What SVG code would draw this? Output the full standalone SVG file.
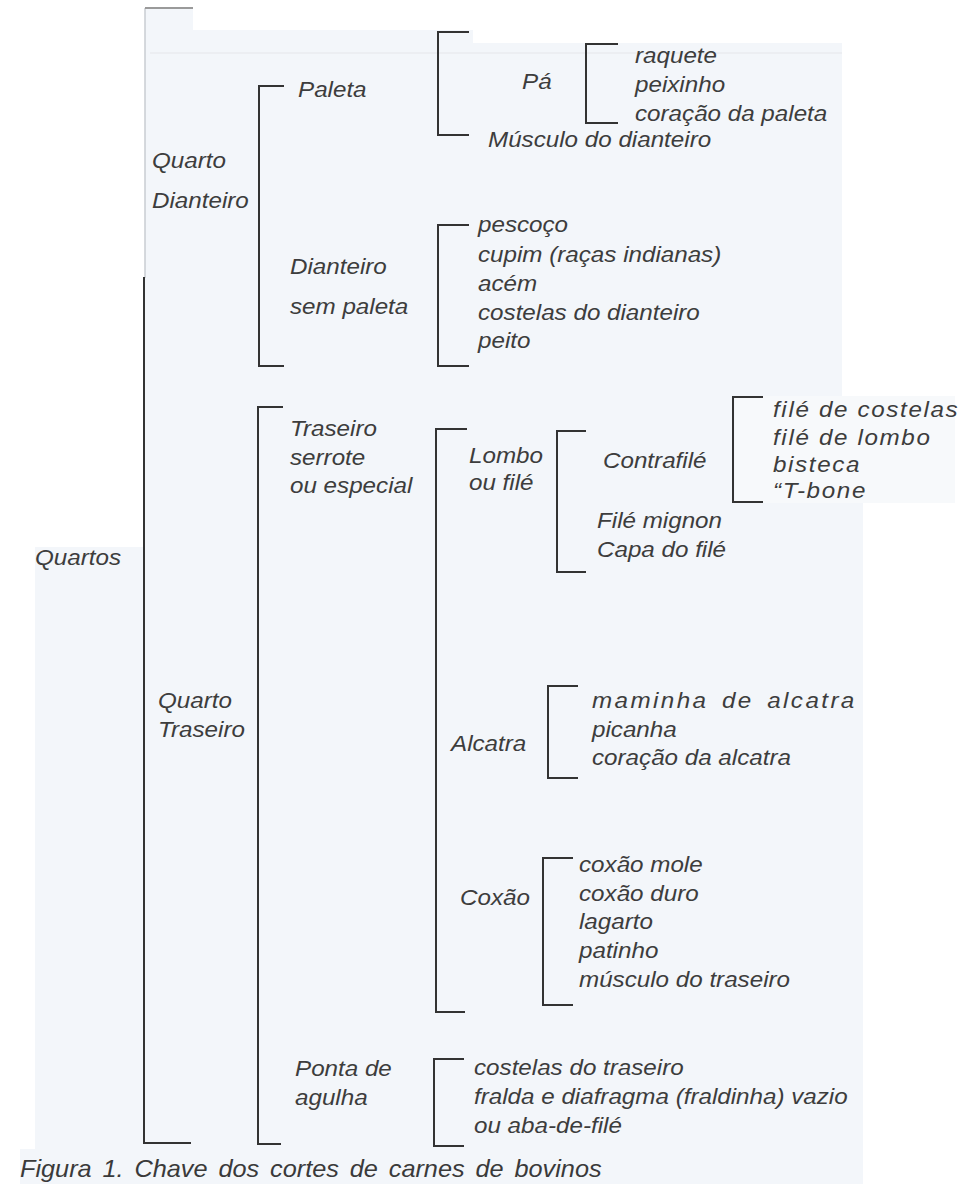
<svg xmlns="http://www.w3.org/2000/svg" width="964" height="1184" viewBox="0 0 964 1184">
<style>
.t{font-family:"Liberation Sans",Arial,sans-serif;font-style:italic;font-size:22px;fill:#3d3d3d}
.cap{font-family:"Liberation Sans",Arial,sans-serif;font-style:italic;font-size:23px;fill:#3a3a3a;word-spacing:3.5px}
.br{fill:none;stroke:#333;stroke-width:2;stroke-linecap:square}
</style>
<rect width="964" height="1184" fill="#ffffff"/>
<g id="paper">
<polygon points="145,8 193,8 193,30 473,30 473,43 842,43 842,396 955,396 955,503 863,503 863,1184 20,1184 20,1149 35,1149 35,547 145,547" fill="#f3f6fa"/>
<rect x="735" y="396" width="220" height="107" fill="#f7f9fb"/>
<line x1="150" y1="53" x2="842" y2="53" stroke="#eceef2" stroke-width="2"/>
</g>
<g id="connectors">
<line x1="145" y1="8" x2="145" y2="278" stroke="#c9cdd2" stroke-width="1.5"/>
<line x1="145" y1="8" x2="193" y2="8" stroke="#9a9a9a" stroke-width="2"/>
<path class="br" d="M144,278 V1143 H190"/>
<path class="br" d="M283,86 H259 V366 H283"/>
<path class="br" d="M468,32 H438 V135 H468"/>
<path class="br" d="M617,44 H586 V123 H617"/>
<path class="br" d="M468,225 H438 V366 H468"/>
<path class="br" d="M282,407 H258 V1144 H280"/>
<path class="br" d="M466,429 H436 V1012 H464"/>
<path class="br" d="M585,431 H557 V572 H585"/>
<path class="br" d="M762,397 H733 V502 H762"/>
<path class="br" d="M577,686 H548 V778 H577"/>
<path class="br" d="M572,858 H543 V1005 H572"/>
<path class="br" d="M463,1059 H434 V1146 H463"/>
</g>
<g id="n-quartos"><text class="t" transform="translate(35 565) scale(1.1 1)">Quartos</text></g>
<g id="n-quarto-dianteiro">
<text class="t" transform="translate(152 168) scale(1.1 1)">Quarto</text>
<text class="t" transform="translate(152 208) scale(1.1 1)">Dianteiro</text>
</g>
<g id="n-paleta"><text class="t" transform="translate(298 97) scale(1.1 1)">Paleta</text></g>
<g id="n-pa"><text class="t" transform="translate(522 89) scale(1.1 1)">Pá</text></g>
<g id="n-pa-cuts">
<text class="t" transform="translate(635 63) scale(1.1 1)">raquete</text>
<text class="t" transform="translate(635 92) scale(1.1 1)">peixinho</text>
<text class="t" transform="translate(635 121) scale(1.1 1)">coração da paleta</text>
</g>
<g id="n-musculo-dianteiro"><text class="t" transform="translate(488 147) scale(1.1 1)">Músculo do dianteiro</text></g>
<g id="n-dianteiro-sem-paleta">
<text class="t" transform="translate(290 274) scale(1.1 1)">Dianteiro</text>
<text class="t" transform="translate(290 314) scale(1.1 1)">sem paleta</text>
</g>
<g id="n-dianteiro-cuts">
<text class="t" transform="translate(478 232) scale(1.1 1)">pescoço</text>
<text class="t" transform="translate(478 262) scale(1.1 1)">cupim (raças indianas)</text>
<text class="t" transform="translate(478 291) scale(1.1 1)">acém</text>
<text class="t" transform="translate(478 320) scale(1.1 1)">costelas do dianteiro</text>
<text class="t" transform="translate(478 348) scale(1.1 1)">peito</text>
</g>
<g id="n-quarto-traseiro">
<text class="t" transform="translate(158 708) scale(1.1 1)">Quarto</text>
<text class="t" transform="translate(158 737) scale(1.1 1)">Traseiro</text>
</g>
<g id="n-traseiro-serrote">
<text class="t" transform="translate(290 436) scale(1.1 1)">Traseiro</text>
<text class="t" transform="translate(290 465) scale(1.1 1)">serrote</text>
<text class="t" transform="translate(290 493) scale(1.1 1)">ou especial</text>
</g>
<g id="n-lombo">
<text class="t" transform="translate(469 463) scale(1.1 1)">Lombo</text>
<text class="t" transform="translate(469 490) scale(1.1 1)">ou filé</text>
</g>
<g id="n-contrafile"><text class="t" transform="translate(603 468) scale(1.1 1)">Contrafilé</text></g>
<g id="n-contrafile-cuts">
<text class="t" style="letter-spacing:1.5px" transform="translate(773 417) scale(1.1 1)">filé de costelas</text>
<text class="t" style="letter-spacing:1.5px" transform="translate(773 445) scale(1.1 1)">filé de lombo</text>
<text class="t" style="letter-spacing:1.5px" transform="translate(773 472) scale(1.1 1)">bisteca</text>
<text class="t" style="letter-spacing:1.5px" transform="translate(773 498) scale(1.1 1)">“T-bone</text>
</g>
<g id="n-file-mignon">
<text class="t" transform="translate(597 528) scale(1.1 1)">Filé mignon</text>
<text class="t" transform="translate(597 557) scale(1.1 1)">Capa do filé</text>
</g>
<g id="n-alcatra"><text class="t" transform="translate(451 751) scale(1.1 1)">Alcatra</text></g>
<g id="n-alcatra-cuts">
<text class="t" style="letter-spacing:2.2px;word-spacing:4px" transform="translate(592 708) scale(1.1 1)">maminha de alcatra</text>
<text class="t" transform="translate(592 737) scale(1.1 1)">picanha</text>
<text class="t" transform="translate(592 765) scale(1.1 1)">coração da alcatra</text>
</g>
<g id="n-coxao"><text class="t" transform="translate(460 905) scale(1.1 1)">Coxão</text></g>
<g id="n-coxao-cuts">
<text class="t" transform="translate(579 872) scale(1.1 1)">coxão mole</text>
<text class="t" transform="translate(579 901) scale(1.1 1)">coxão duro</text>
<text class="t" transform="translate(579 929) scale(1.1 1)">lagarto</text>
<text class="t" transform="translate(579 958) scale(1.1 1)">patinho</text>
<text class="t" transform="translate(579 987) scale(1.1 1)">músculo do traseiro</text>
</g>
<g id="n-ponta-agulha">
<text class="t" transform="translate(295 1076) scale(1.1 1)">Ponta de</text>
<text class="t" transform="translate(295 1105) scale(1.1 1)">agulha</text>
</g>
<g id="n-ponta-cuts">
<text class="t" transform="translate(474 1075) scale(1.1 1)">costelas do traseiro</text>
<text class="t" transform="translate(474 1104) scale(1.1 1)">fralda e diafragma (fraldinha) vazio</text>
<text class="t" transform="translate(474 1133) scale(1.1 1)">ou aba-de-filé</text>
</g>
<g id="caption"><text class="cap" transform="translate(20 1177) scale(1.1 1)">Figura 1. Chave dos cortes de carnes de bovinos</text></g>
</svg>
